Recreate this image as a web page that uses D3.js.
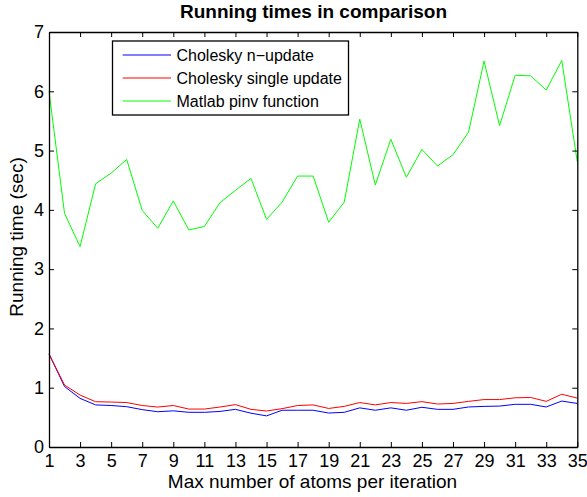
<!DOCTYPE html>
<html>
<head>
<meta charset="utf-8">
<script src="https://cdn.jsdelivr.net/npm/d3@7"></script>
<style>
  html, body { margin: 0; padding: 0; background: #fff; }
  svg { display: block; }
  text { font-family: "Liberation Sans", Arial, Helvetica, sans-serif; fill: #000; }
</style>
</head>
<body>
<script>
// Max number of atoms per iteration
const atoms = d3.range(1, 36);

// Running times (sec) per method
const cholNUpdate = [1.57, 1.02, 0.82, 0.71, 0.70, 0.68, 0.63, 0.595, 0.61, 0.585,
  0.585, 0.60, 0.635, 0.57, 0.525, 0.62, 0.62, 0.62, 0.573, 0.585,
  0.66, 0.62, 0.66, 0.62, 0.67, 0.635, 0.635, 0.675, 0.685, 0.69,
  0.72, 0.72, 0.675, 0.775, 0.735];
const cholSingle = [1.57, 1.045, 0.876, 0.764, 0.758, 0.75, 0.70, 0.674, 0.70, 0.64,
  0.64, 0.674, 0.715, 0.635, 0.607, 0.647, 0.70, 0.71, 0.65, 0.685,
  0.75, 0.71, 0.75, 0.735, 0.765, 0.725, 0.735, 0.77, 0.80, 0.80,
  0.83, 0.835, 0.77, 0.89, 0.825];
const pinvTimes = [6.0, 3.94, 3.38, 4.44, 4.62, 4.85, 3.99, 3.69, 4.15, 3.66,
  3.72, 4.12, 4.33, 4.53, 3.84, 4.13, 4.57, 4.57, 3.79, 4.13,
  5.53, 4.42, 5.19, 4.55, 5.02, 4.74, 4.93, 5.31, 6.51, 5.42,
  6.27, 6.26, 6.02, 6.52, 4.81];

const seriesNames = ["Cholesky n\u2212update", "Cholesky single update", "Matlab pinv function"];
const seriesColors = ["#0000ff", "#ff0000", "#00ff00"];
const xTicks = d3.range(1, 36, 2);
const yTicks = d3.range(0, 8, 1);

const width = 587, height = 497;
const margin = { left: 49, right: 9.7, top: 32, bottom: 50 };
const plotW = width - margin.left - margin.right;
const plotH = height - margin.top - margin.bottom;

const svg = d3.select("body").append("svg")
  .attr("width", width).attr("height", height);

const x = d3.scaleLinear().domain([1, 35]).range([0, plotW]);
const y = d3.scaleLinear().domain([0, 7]).range([plotH, 0]);

const g = svg.append("g").attr("transform", `translate(${margin.left},${margin.top})`);

// Series lines
const series = [cholNUpdate, cholSingle, pinvTimes];
const line = d3.line().x((d, i) => x(atoms[i])).y(d => y(d));
series.forEach((vals, k) => {
  g.append("path")
    .datum(vals)
    .attr("fill", "none")
    .attr("stroke", seriesColors[k])
    .attr("stroke-width", 1)
    .attr("stroke-linejoin", "miter")
    .attr("d", line);
});

// Axes with inward ticks, mirrored on top and right
const tickLen = 5;
const styleAxis = sel => {
  sel.selectAll(".domain").attr("stroke", "#000").attr("stroke-width", 1.3);
  sel.selectAll(".tick line").attr("stroke", "#000").attr("stroke-width", 1);
  sel.selectAll("text").style("font-size", "18px")
    .style("font-family", '"Liberation Sans", Arial, sans-serif');
};

g.append("g").attr("transform", `translate(0,${plotH})`)
  .call(d3.axisBottom(x).tickValues(xTicks).tickSizeInner(-tickLen).tickSizeOuter(0)
    .tickPadding(7).tickFormat(d3.format("d")))
  .call(styleAxis);
g.append("g")
  .call(d3.axisTop(x).tickValues(xTicks).tickSizeInner(-tickLen).tickSizeOuter(0).tickFormat(""))
  .call(styleAxis);
g.append("g")
  .call(d3.axisLeft(y).tickValues(yTicks).tickSizeInner(-tickLen).tickSizeOuter(0)
    .tickPadding(5).tickFormat(d3.format("d")))
  .call(styleAxis);
g.append("g").attr("transform", `translate(${plotW},0)`)
  .call(d3.axisRight(y).tickValues(yTicks).tickSizeInner(-tickLen).tickSizeOuter(0).tickFormat(""))
  .call(styleAxis);

// Title and axis labels
svg.append("text")
  .attr("x", 313.5).attr("y", 17.5)
  .attr("text-anchor", "middle")
  .style("font-size", "19px").style("font-weight", "bold")
  .text("Running times in comparison");

svg.append("text")
  .attr("x", 312.5).attr("y", 488)
  .attr("text-anchor", "middle")
  .style("font-size", "19px")
  .text("Max number of atoms per iteration");

svg.append("text")
  .attr("transform", `translate(23,237) rotate(-90)`)
  .attr("text-anchor", "middle")
  .style("font-size", "19px")
  .text("Running time (sec)");

// Legend
const legend = svg.append("g");
legend.append("rect")
  .attr("x", 112.5).attr("y", 41).attr("width", 236).attr("height", 74)
  .attr("fill", "#fff").attr("stroke", "#000").attr("stroke-width", 1.3);
seriesNames.forEach((name, k) => {
  const ly = 55 + k * 23;
  legend.append("line")
    .attr("x1", 122.7).attr("x2", 171).attr("y1", ly).attr("y2", ly)
    .attr("stroke", seriesColors[k]).attr("stroke-width", 1);
  legend.append("text")
    .attr("x", 176.5).attr("y", ly).attr("dy", "0.35em")
    .style("font-size", "16px")
    .text(name);
});
</script>
</body>
</html>
